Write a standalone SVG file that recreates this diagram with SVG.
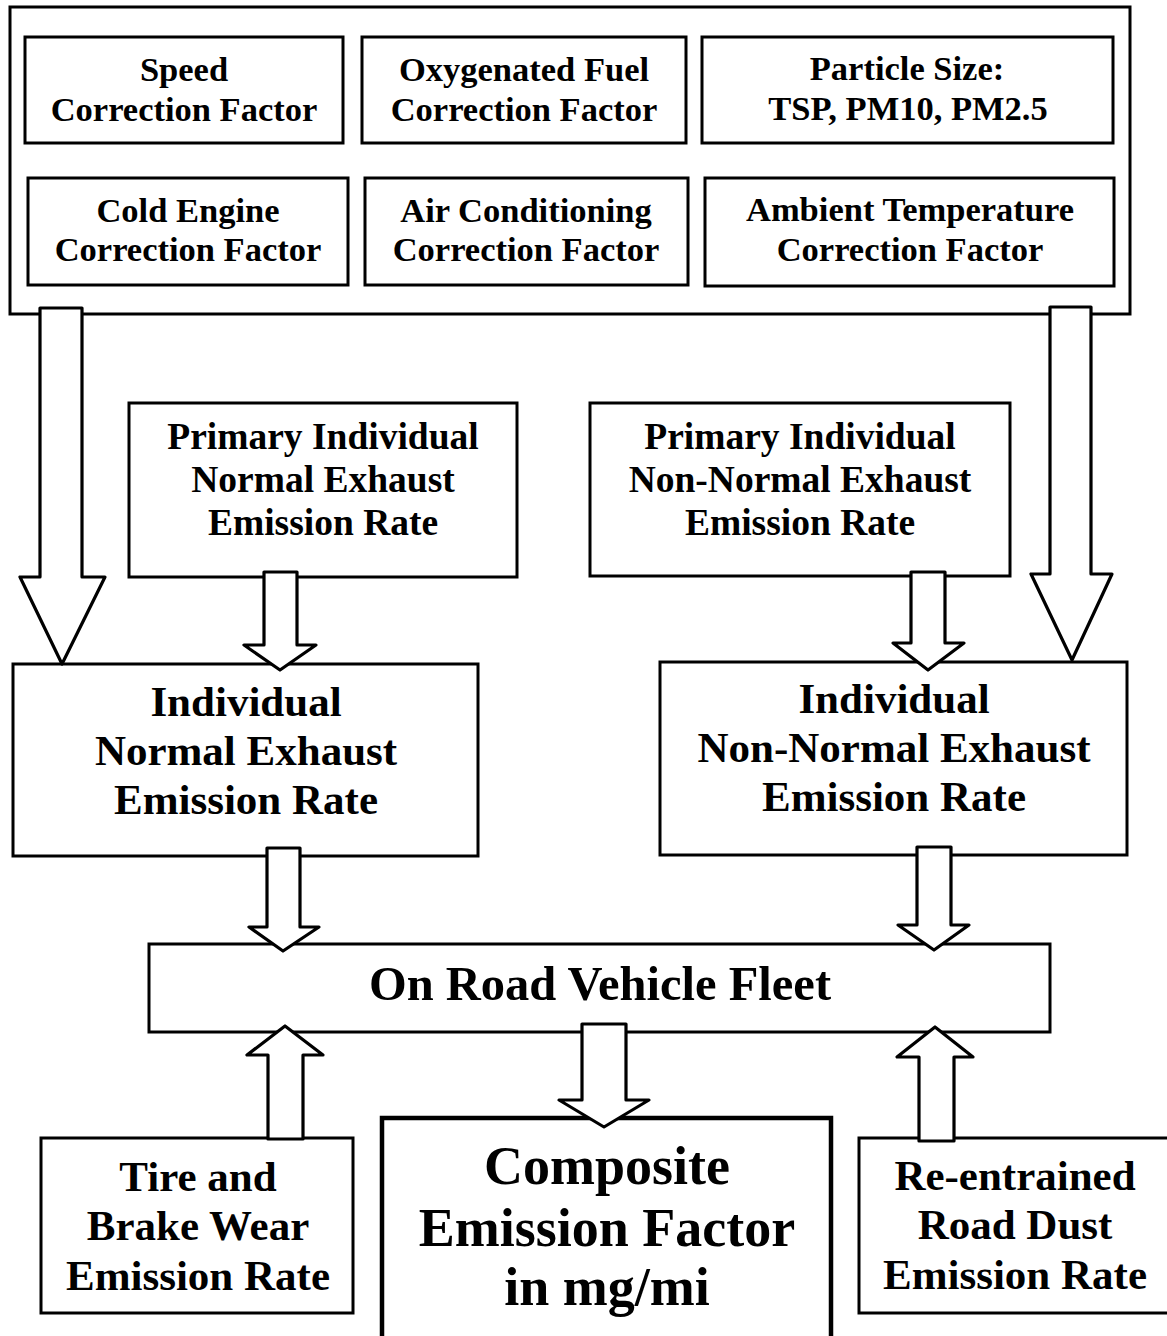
<svg xmlns="http://www.w3.org/2000/svg" width="1167" height="1336" viewBox="0 0 1167 1336">
<style>
.box{fill:#fff;stroke:#000;stroke-width:3}
.frame{fill:#fff;stroke:#000;stroke-width:3}
.thick{fill:#fff;stroke:#000;stroke-width:4.5}
.arrow{fill:#fff;stroke:#000;stroke-width:3.2;stroke-linejoin:round}
text{font-family:"Liberation Serif","Times New Roman",serif;font-weight:bold;fill:#000;text-anchor:middle}
.t34{font-size:34.5px}
.t37{font-size:37.5px}
.t43{font-size:43px}
.t48{font-size:48.5px}
.t54{font-size:54px}
</style>
<rect width="1167" height="1336" fill="#fff"/>
<g id="factors-frame">
<rect class="frame" x="10" y="7" width="1120" height="307"/>
</g>
<g id="speed">
<rect class="box" x="25" y="37" width="318" height="106"/>
<text class="t34" x="184" y="81">Speed</text>
<text class="t34" x="184" y="121">Correction Factor</text>
</g>
<g id="oxygenated">
<rect class="box" x="362" y="37" width="324" height="106"/>
<text class="t34" x="524" y="81">Oxygenated Fuel</text>
<text class="t34" x="524" y="121">Correction Factor</text>
</g>
<g id="particle">
<rect class="box" x="702" y="37" width="411" height="106"/>
<text class="t34" x="907" y="80">Particle Size:</text>
<text class="t34" x="908" y="120">TSP, PM10, PM2.5</text>
</g>
<g id="cold">
<rect class="box" x="28" y="178" width="320" height="107"/>
<text class="t34" x="188" y="222">Cold Engine</text>
<text class="t34" x="188" y="261">Correction Factor</text>
</g>
<g id="aircon">
<rect class="box" x="365" y="178" width="323" height="107"/>
<text class="t34" x="526" y="222">Air Conditioning</text>
<text class="t34" x="526" y="261">Correction Factor</text>
</g>
<g id="ambient">
<rect class="box" x="705" y="178" width="409" height="108"/>
<text class="t34" x="910" y="221">Ambient Temperature</text>
<text class="t34" x="910" y="261">Correction Factor</text>
</g>
<g id="primary-normal">
<rect class="box" x="129" y="403" width="388" height="174"/>
<text class="t37" x="323" y="449">Primary Individual</text>
<text class="t37" x="323" y="492">Normal Exhaust</text>
<text class="t37" x="323" y="535">Emission Rate</text>
</g>
<g id="primary-nonnormal">
<rect class="box" x="590" y="403" width="420" height="173"/>
<text class="t37" x="800" y="449">Primary Individual</text>
<text class="t37" x="800" y="492">Non-Normal Exhaust</text>
<text class="t37" x="800" y="535">Emission Rate</text>
</g>
<g id="individual-normal">
<rect class="box" x="13" y="664" width="465" height="192"/>
<text class="t43" x="246" y="716">Individual</text>
<text class="t43" x="246" y="765">Normal Exhaust</text>
<text class="t43" x="246" y="814">Emission Rate</text>
</g>
<g id="individual-nonnormal">
<rect class="box" x="660" y="662" width="467" height="193"/>
<text class="t43" x="894" y="713">Individual</text>
<text class="t43" x="894" y="762">Non-Normal Exhaust</text>
<text class="t43" x="894" y="811">Emission Rate</text>
</g>
<g id="fleet">
<rect class="box" x="149" y="944" width="901" height="88"/>
<text class="t48" x="600" y="1000">On Road Vehicle Fleet</text>
</g>
<g id="tire">
<rect class="box" x="41" y="1138" width="312" height="175"/>
<text class="t43" x="198" y="1191">Tire and</text>
<text class="t43" x="198" y="1240">Brake Wear</text>
<text class="t43" x="198" y="1290">Emission Rate</text>
</g>
<g id="composite">
<rect class="thick" x="382" y="1118" width="449" height="230"/>
<text class="t54" x="607" y="1184">Composite</text>
<text class="t54" x="607" y="1246">Emission Factor</text>
<text class="t54" x="607" y="1305">in mg/mi</text>
</g>
<g id="road-dust">
<rect class="box" x="859" y="1138" width="320" height="175"/>
<text class="t43" x="1015" y="1190">Re-entrained</text>
<text class="t43" x="1015" y="1239">Road Dust</text>
<text class="t43" x="1015" y="1289">Emission Rate</text>
</g>
<g id="connectors">
<polygon class="arrow" points="40,308 82,308 82,577 105,577 62,664 20,577 40,577"/>
<polygon class="arrow" points="1050,307 1091,307 1091,574 1112,574 1072,660 1031,574 1050,574"/>
<polygon class="arrow" points="264,572 297,572 297,645 316,645 280,670 244,645 264,645"/>
<polygon class="arrow" points="911,572 945,572 945,643 964,643 928,670 893,643 911,643"/>
<polygon class="arrow" points="267,848 300,848 300,927 319,927 283,951 249,927 267,927"/>
<polygon class="arrow" points="917,847 951,847 951,925 969,925 934,950 898,925 917,925"/>
<polygon class="arrow" points="582,1024 626,1024 626,1100 649,1100 604,1127 559,1100 582,1100"/>
<polygon class="arrow" points="268,1139 303,1139 303,1055 323,1055 285,1026 247,1055 268,1055"/>
<polygon class="arrow" points="919,1141 954,1141 954,1057 973,1057 935,1027 897,1057 919,1057"/>
</g>
</svg>
